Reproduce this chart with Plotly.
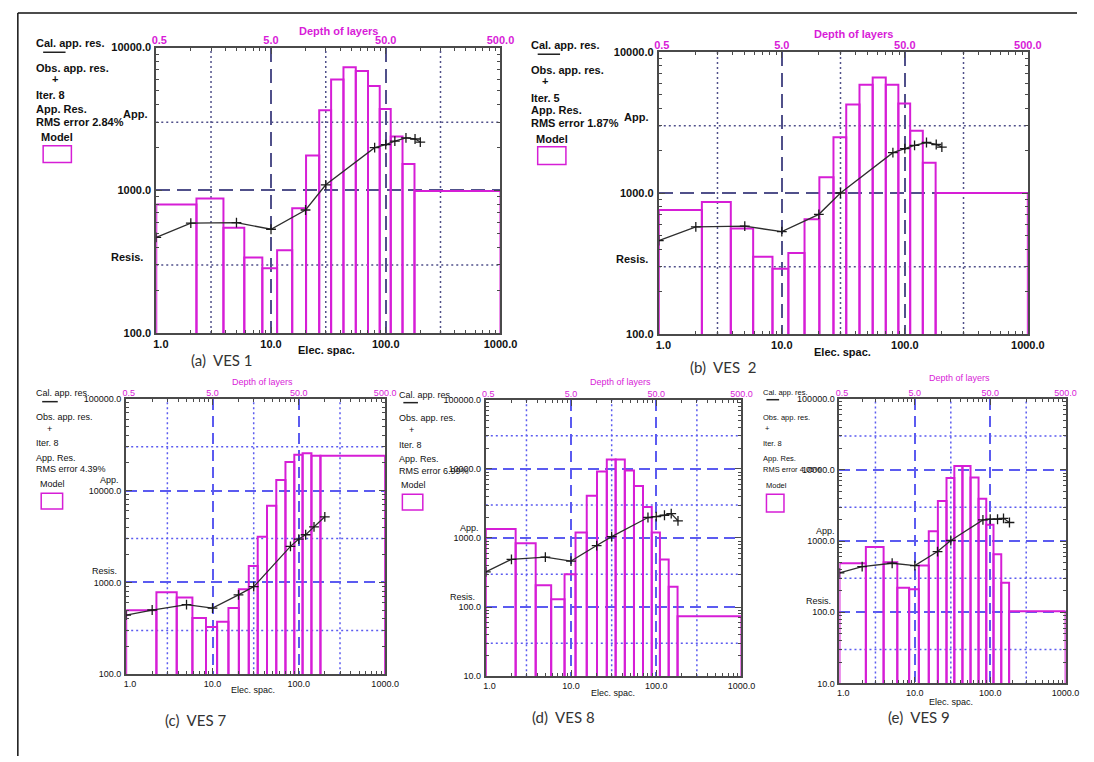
import numpy as np
import plotly.graph_objects as go

W, H = 1094, 762

# ---------------- data ----------------
# layer boundaries (electrode spacing units, shared by all soundings)
layer_bounds = [1.0, 2.24, 3.85, 5.85, 8.4, 11.3, 15.3, 20.2, 26.3, 33.4,
                42.8, 54.8, 70.0, 88.6, 110.5, 140.0, 178.0, 1000.0]

# model layer resistivities (ohm-m)
ves1_model = [796, 877, 547, 338, 284, 380, 748, 1753, 3640, 5980, 7280, 6870, 5380, 3720, 2380, 1527, 990]
ves2_model = [757, 865, 561, 353, 290, 376, 652, 1294, 2483, 4246, 5850, 6590, 5850, 4313, 2767, 1636, 1000]
ves7_model = [497, 781, 685, 411, 327, 373, 526, 841, 1510, 3135, 6850, 13000, 20460, 24500, 25500, 23900, 23900]
ves8_model = [1345, 839, 208, 130, 299, 1205, 4070, 9160, 13700, 13700, 9460, 5650, 2800, 1205, 490, 197, 74]
ves9_model = [488, 827, 504, 221, 210, 453, 1373, 3660, 7670, 11350, 11350, 7830, 3940, 1695, 656, 259, 103]

# apparent resistivity curves (electrode spacing, app. res.)
ves1_ab = [1, 2, 5, 10, 20, 30, 80, 100, 120, 150, 180, 200]
ves1_rho = [469, 589, 594, 534, 728, 1094, 1990, 2094, 2213, 2330, 2290, 2180]
ves2_ab = [1, 2, 5, 10, 20, 30, 80, 100, 120, 150, 180, 200]
ves2_rho = [460, 576, 582, 532, 706, 1000, 1932, 2061, 2173, 2280, 2208, 2118]
ves7_ab = [1, 2, 5, 10, 20, 30, 80, 100, 120, 150, 200]
ves7_rho = [440, 501, 573, 526, 733, 899, 2470, 2966, 3305, 4018, 5180]
ves8_ab = [1, 2, 5, 10, 20, 30, 80, 100, 125, 150, 180]
ves8_rho = [324, 491, 530, 464, 778, 1047, 1977, 2043, 2133, 2250, 1772]
ves9_ab = [1, 2, 5, 10, 20, 30, 80, 100, 125, 150, 180]
ves9_rho = [358, 438, 488, 453, 713, 1020, 1983, 2027, 2027, 2090, 1825]

x_ticks = [1, 10, 100, 1000]
x_tick_text = ['\u00a0\u00a0\u00a01.0', '10.0', '100.0', '1000.0']
depth_tick_text = ['\u00a0\u00a00.5', '5.0', '50.0', '500.0']
iterations = ['8', '5', '8', '8', '8']
rms_errors = ['2.84%', '1.87%', '4.39%', '6.99%', '4.05%']
captions = ['(a)  VES 1', '(b)  VES  2', '(c)  VES 7', '(d)  VES 8', '(e)  VES 9']

# ---------------- styling / layout ----------------
MAG = '#d61ed6'
MAGT = '#d81bd8'
FRAME = '#4a4a4a'
BIG = dict(family='Liberation Sans', size=11, color='#111111', weight='bold')
SMALL = dict(family='Liberation Sans', size=9, color='#111111')


def fx(px):
    return px / W


def fy(py):
    return 1 - py / H


panels = [
    dict(model=ves1_model, ab=ves1_ab, rho=ves1_rho, rect=(148.2, 42.3, 501.8, 332.3), yr=(2, 4), style='big', legsize=11,
         grid='#50508a', leg_x=23, leg=dict(cal=38, line=(32, 55, 47), obs=63, plus=(44, 74), it=90, appres=105, rms=118,
                                             model=(28, 133), box=(32, 142, 61, 159)),
         app=(141, 110), resis=(137, 255), depth=(335, 25), elec=(323, 350), cap=(216, 360)),
    dict(model=ves2_model, ab=ves2_ab, rho=ves2_rho, rect=(664.4, 46.7, 1043.5, 333.3), yr=(2, 4), style='big', legsize=11,
         grid='#50508a', leg_x=531, leg=dict(cal=40, line=(540, 563, 49), obs=65, plus=(548, 76), it=93, appres=106, rms=119,
                                              model=(536, 135), box=(540, 143, 569, 161)),
         app=(655, 113), resis=(655, 257), depth=(864, 28), elec=(853, 352), cap=(730, 367)),
    dict(model=ves7_model, ab=ves7_ab, rho=ves7_rho, rect=(117.3, 399, 383.3, 679), yr=(2, 5), style='small', legsize=9,
         grid='#5b5bf0', leg_x=23, leg=dict(cal=393, line=(31, 47, 402), obs=418, plus=(39, 430), it=444, appres=459, rms=470,
                                             model=(27, 486), box=(30, 495, 52, 511)),
         app=(112, 482), resis=(110, 574), depth=(257, 382), elec=(248, 695), cap=(188, 725)),
    dict(model=ves8_model, ab=ves8_ab, rho=ves8_rho, rect=(486.7, 400, 749.3, 681), yr=(1, 5), style='small', legsize=9,
         grid='#5b5bf0', leg_x=395, leg=dict(cal=395, line=(402, 417, 403), obs=419, plus=(410, 431), it=446, appres=460, rms=472,
                                              model=(398, 487), box=(401, 496, 422, 512)),
         app=(482, 530), resis=(478, 600), depth=(625, 382), elec=(617, 698), cap=(567, 722)),
    dict(model=ves9_model, ab=ves9_ab, rho=ves9_rho, rect=(850, 399, 1082.3, 688.3), yr=(1, 5), style='small', legsize=7.5,
         grid='#5b5bf0', leg_x=769, leg=dict(cal=393, line=(775, 788, 400), obs=418, plus=(776, 429), it=445, appres=460, rms=471,
                                              model=(772, 487), box=(775, 496, 793, 514)),
         app=(847, 533), resis=(843, 605), depth=(973, 378), elec=(965, 707), cap=(932, 722)),
]

fig = go.Figure()
layout = dict(width=W, height=H, margin=dict(l=0, r=0, t=0, b=0), autosize=False,
              paper_bgcolor='white', plot_bgcolor='white', showlegend=False)
annotations = []
shapes = []

minor_x = [m * 10 ** d for d in range(0, 3) for m in range(2, 10)]
dotted_x = [3, 30, 300]


def ann(text, x, y, font, xanchor='left', yanchor='middle'):
    annotations.append(dict(text=text, x=fx(x), y=fy(y), xref='paper', yref='paper', showarrow=False,
                            xanchor=xanchor, yanchor=yanchor, font=font))


for i, p in enumerate(panels):
    n = i + 1
    sfx = '' if n == 1 else str(n)
    xr, yr_ = 'x' + sfx, 'y' + sfx
    top = 'x' + str(n + 5)
    l, t, r, b = p['rect']
    font = BIG if p['style'] == 'big' else SMALL
    legfont = dict(font, size=p['legsize'])
    magfont = dict(font, color=MAGT)
    y0, y1 = p['yr']
    ytv = [10 ** k for k in range(y0, y1 + 1)]
    minor_y = [m * 10 ** k for k in range(y0, y1) for m in range(2, 10)]
    dotted_y = [3 * 10 ** k for k in range(y0, y1)]
    gdash = '14px,7px' if p['style'] == 'big' else '11px,6px'

    layout['xaxis' + sfx] = dict(
        type='log', range=[0, 3], domain=[fx(l), fx(r)], anchor=yr_,
        tickmode='array', tickvals=x_ticks, ticktext=x_tick_text,
        ticks='inside', ticklen=6, tickcolor=FRAME, tickwidth=1,
        showline=True, linecolor=FRAME, linewidth=2, mirror='ticks',
        showgrid=True, gridcolor=p['grid'], griddash=gdash, gridwidth=1.5, zeroline=False,
        minor=dict(tickmode='array', tickvals=minor_x, ticks='inside', ticklen=3, tickcolor=FRAME, showgrid=False),
        tickfont=font, fixedrange=True)
    layout['yaxis' + sfx] = dict(
        type='log', range=[y0, y1], domain=[fy(b), fy(t)], anchor=xr,
        tickmode='array', tickvals=ytv, ticktext=[f'{v:.1f}' for v in ytv],
        ticks='inside', ticklen=6, tickcolor=FRAME, tickwidth=1,
        showline=True, linecolor=FRAME, linewidth=2, mirror='ticks',
        showgrid=True, gridcolor=p['grid'], griddash=gdash, gridwidth=1.5, zeroline=False,
        minor=dict(tickmode='array', tickvals=minor_y, ticks='inside', ticklen=3, tickcolor=FRAME, showgrid=False),
        tickfont=font, ticklabelstandoff=1, fixedrange=True)
    layout['xaxis' + str(n + 5)] = dict(
        type='log', range=[0, 3], overlaying=xr, side='top', anchor=yr_,
        tickmode='array', tickvals=x_ticks, ticktext=depth_tick_text,
        ticks='', showline=False, showgrid=False, zeroline=False,
        tickfont=magfont, fixedrange=True)

    # dotted grid lines
    for xv in dotted_x:
        shapes.append(dict(type='line', xref=xr, yref=yr_ + ' domain', x0=xv, x1=xv, y0=0, y1=1,
                           line=dict(color=p['grid'], width=1.5, dash='2px,3px'), layer='below'))
    for yv in dotted_y:
        shapes.append(dict(type='line', xref=xr + ' domain', yref=yr_, x0=0, x1=1, y0=yv, y1=yv,
                           line=dict(color=p['grid'], width=1.5, dash='2px,3px'), layer='below'))

    # model (layer) rectangles
    base = 10 ** y0
    mx, my = [], []
    for k, v in enumerate(p['model']):
        xa, xb = layer_bounds[k], layer_bounds[k + 1]
        mx += [xa, xa, xb, xb, None]
        my += [base, v, v, base, None]
    fig.add_trace(go.Scatter(x=mx, y=my, mode='lines', xaxis=xr, yaxis=yr_,
                             line=dict(color=MAG, width=2), hoverinfo='skip'))
    # calculated / observed apparent resistivity
    fig.add_trace(go.Scatter(x=p['ab'], y=p['rho'], mode='lines+markers', xaxis=xr, yaxis=yr_,
                             line=dict(color='#2e2e2e', width=1.3),
                             marker=dict(symbol='cross-thin', size=7, line=dict(color='#1a1a1a', width=1.3))))
    # invisible trace to register the depth axis
    fig.add_trace(go.Scatter(x=[None], y=[None], xaxis=top, yaxis=yr_, mode='lines', hoverinfo='skip'))

    # legend block (left of each panel)
    lg = p['leg']
    lx = p['leg_x']
    ann('Cal. app. res.', lx, lg['cal'], legfont)
    shapes.append(dict(type='line', xref='paper', yref='paper', x0=fx(lg['line'][0]), x1=fx(lg['line'][1]),
                       y0=fy(lg['line'][2]), y1=fy(lg['line'][2]), line=dict(color='#222', width=1.5)))
    ann('Obs. app. res.', lx, lg['obs'], legfont)
    ann('+', lg['plus'][0], lg['plus'][1], legfont, xanchor='center')
    ann('Iter. ' + iterations[i], lx, lg['it'], legfont)
    ann('App. Res.', lx, lg['appres'], legfont)
    ann('RMS error ' + rms_errors[i], lx, lg['rms'], legfont)
    ann('Model', lg['model'][0], lg['model'][1], legfont)
    bx = lg['box']
    shapes.append(dict(type='rect', xref='paper', yref='paper', x0=fx(bx[0]), x1=fx(bx[2]),
                       y0=fy(bx[3]), y1=fy(bx[1]), line=dict(color=MAG, width=1.5)))
    ann('App.', p['app'][0], p['app'][1], font, xanchor='right')
    ann('Resis.', p['resis'][0], p['resis'][1], font, xanchor='right')
    ann('Depth of layers', p['depth'][0], p['depth'][1], magfont, xanchor='center')
    ann('Elec. spac.', p['elec'][0], p['elec'][1], font, xanchor='center')
    ann(captions[i], p['cap'][0], p['cap'][1], dict(family='Lato', size=15, color='#333333'), xanchor='center')

# outer frame (top and left edges)
shapes.append(dict(type='line', xref='paper', yref='paper', x0=fx(6), x1=1, y0=fy(7), y1=fy(7),
                   line=dict(color='#111', width=1.5)))
shapes.append(dict(type='line', xref='paper', yref='paper', x0=fx(6), x1=fx(6), y0=fy(7), y1=0,
                   line=dict(color='#111', width=1.5)))

layout['annotations'] = annotations
layout['shapes'] = shapes
fig.update_layout(**layout)
fig.write_html('out.html', config={'displayModeBar': False},
               post_script="document.body.style.margin='0px';document.body.style.overflow='hidden';")
